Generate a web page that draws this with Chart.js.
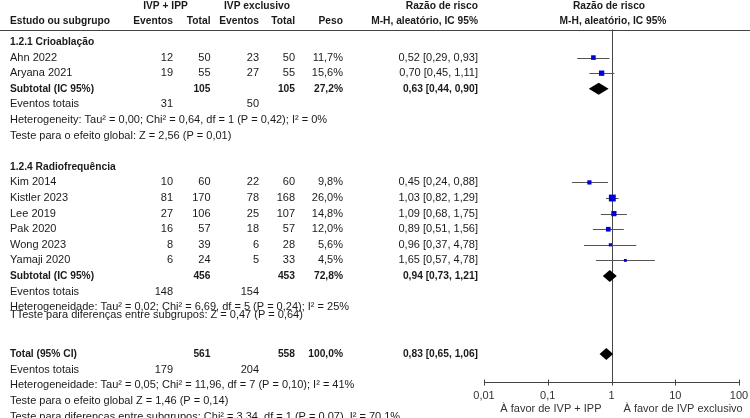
<!DOCTYPE html>
<html>
<head>
<meta charset="utf-8">
<script src="https://cdn.jsdelivr.net/npm/chart.js@4.4.0/dist/chart.umd.min.js"></script>
<style>
  html, body { margin: 0; padding: 0; background: #fff; }
  canvas { display: block; }
</style>
</head>
<body>
<canvas id="forest" width="750" height="418"></canvas>
<script>
// dados
const studies = ['Ahn 2022', 'Aryana 2021', 'Kim 2014', 'Kistler 2023', 'Lee 2019', 'Pak 2020', 'Wong 2023', 'Yamaji 2020'];
const eventsA = [12, 19, 10, 81, 27, 16, 8, 6];
const totalA = [50, 55, 60, 170, 106, 57, 39, 24];
const eventsB = [23, 27, 22, 78, 25, 18, 6, 5];
const totalB = [50, 55, 60, 168, 107, 57, 28, 33];
const weights = [11.7, 15.6, 9.8, 26.0, 14.8, 12.0, 5.6, 4.5];
const rr = [0.52, 0.70, 0.45, 1.03, 1.09, 0.89, 0.96, 1.65];
const rrLo = [0.29, 0.45, 0.24, 0.82, 0.68, 0.51, 0.37, 0.57];
const rrHi = [0.93, 1.11, 0.88, 1.29, 1.75, 1.56, 2.45, 4.78];
// texto da coluna tal como impresso (Wong traz 4,78 no original)
const rrLabels = ['0,52 [0,29, 0,93]', '0,70 [0,45, 1,11]', '0,45 [0,24, 0,88]', '1,03 [0,82, 1,29]',
  '1,09 [0,68, 1,75]', '0,89 [0,51, 1,56]', '0,96 [0,37, 4,78]', '1,65 [0,57, 4,78]'];

const pooledNames = ['Subtotal (IC 95%)', 'Subtotal (IC 95%)', 'Total (95% CI)'];
const pooledTotA = [105, 456, 561];
const pooledTotB = [105, 453, 558];
const pooledEvA = [31, 148, 179];
const pooledEvB = [50, 154, 204];
const pooledWeight = ['27,2%', '72,8%', '100,0%'];
const pooledRR = [0.63, 0.94, 0.83];
const pooledLo = [0.44, 0.73, 0.65];
const pooledHi = [0.90, 1.21, 1.06];
const pooledLabels = ['0,63 [0,44, 0,90]', '0,94 [0,73, 1,21]', '0,83 [0,65, 1,06]'];

const groupTitles = ['1.2.1 Crioablação', '1.2.4 Radiofrequência'];
const statLines = [
  'Heterogeneity: Tau² = 0,00; Chi² = 0,64, df = 1 (P = 0,42); I² = 0%',
  'Teste para o efeito global: Z = 2,56 (P = 0,01)',
  'Heterogeneidade: Tau² = 0,02; Chi² = 6,69, df = 5 (P = 0,24); I² = 25%',
  'TTeste para diferenças entre subgrupos: Z = 0,47 (P = 0,64)',
  'Heterogeneidade: Tau² = 0,05; Chi² = 11,96, df = 7 (P = 0,10); I² = 41%',
  'Teste para o efeito global Z = 1,46 (P = 0,14)',
  'Teste para diferenças entre subgrupos: Chi² = 3,34, df = 1 (P = 0,07), I² = 70,1%'
];

const tickValues = [0.01, 0.1, 1, 10, 100];
const tickLabels = ['0,01', '0,1', '1', '10', '100'];
const favorLabels = ['À favor de IVP + IPP', 'À favor de IVP exclusivo'];

// layout (linhas da tabela)
const studyRows = [1, 2, 9, 10, 11, 12, 13, 14];
const groupRows = [0, 8];
const pooledRows = [3, 15, 20];
const eventRows = [4, 16, 21];
const statRows = [5, 6, 17, 17.5, 22, 23, 24];
const HEAD1 = -2.3, HEAD2 = -1.35;

const FONT = '"Liberation Sans", Arial, sans-serif';
const SIZE = 11;
const BOLD_SX = 0.93;   // negrito do original é mais estreito
const TEXT = '#1a1a1a';
const LINE = '#444';
const col = { name: 10, evA: 173, totA: 210.5, evB: 259, totB: 295, peso: 343, rr: 478 };

const fmt = v => v.toFixed(1).replace('.', ',') + '%';

const forestPlugin = {
  id: 'forest',
  beforeDraw(chart) {
    const ctx = chart.ctx;
    ctx.save();
    ctx.fillStyle = '#fff';
    ctx.fillRect(0, 0, chart.width, chart.height);
    ctx.restore();
  },
  beforeDatasetsDraw(chart) {
    const { ctx, scales: { x, y }, chartArea } = chart;
    ctx.save();
    // linha do cabeçalho
    ctx.strokeStyle = LINE;
    ctx.lineWidth = 1;
    ctx.beginPath();
    ctx.moveTo(0, Math.round(chartArea.top) + 0.5);
    ctx.lineTo(chart.width, Math.round(chartArea.top) + 0.5);
    ctx.stroke();
    // linha de efeito nulo
    const x1 = Math.round(x.getPixelForValue(1)) + 0.5;
    ctx.beginPath();
    ctx.moveTo(x1, chartArea.top);
    ctx.lineTo(x1, chartArea.bottom);
    ctx.stroke();
    // intervalos de confiança
    ctx.strokeStyle = '#555';
    studies.forEach((s, i) => {
      const py = Math.round(y.getPixelForValue(studyRows[i])) + 0.5;
      ctx.beginPath();
      ctx.moveTo(x.getPixelForValue(rrLo[i]), py);
      ctx.lineTo(x.getPixelForValue(rrHi[i]), py);
      ctx.stroke();
    });
    // diamantes
    ctx.fillStyle = '#000';
    pooledRR.forEach((v, i) => {
      const py = y.getPixelForValue(pooledRows[i]);
      ctx.beginPath();
      ctx.moveTo(x.getPixelForValue(pooledLo[i]), py);
      ctx.lineTo(x.getPixelForValue(v), py - 6);
      ctx.lineTo(x.getPixelForValue(pooledHi[i]), py);
      ctx.lineTo(x.getPixelForValue(v), py + 6);
      ctx.closePath();
      ctx.fill();
    });
    // eixo
    const ay = Math.round(chartArea.bottom) + 0.5;
    ctx.strokeStyle = LINE;
    ctx.beginPath();
    ctx.moveTo(x.getPixelForValue(tickValues[0]), ay);
    ctx.lineTo(x.getPixelForValue(tickValues[tickValues.length - 1]), ay);
    tickValues.forEach(t => {
      const px = Math.round(x.getPixelForValue(t)) + 0.5;
      ctx.moveTo(px, ay - 3);
      ctx.lineTo(px, ay + 3);
    });
    ctx.stroke();
    ctx.fillStyle = '#333';
    ctx.font = SIZE + 'px ' + FONT;
    ctx.textBaseline = 'middle';
    ctx.textAlign = 'center';
    tickValues.forEach((t, i) => ctx.fillText(tickLabels[i], x.getPixelForValue(t), ay + 13));
    ctx.textAlign = 'right';
    ctx.fillText(favorLabels[0], x1 - 11, ay + 26);
    ctx.textAlign = 'left';
    ctx.fillText(favorLabels[1], x1 + 11, ay + 26);
    ctx.restore();
  },
  afterDraw(chart) {
    const { ctx, scales: { y } } = chart;
    ctx.save();
    ctx.fillStyle = TEXT;
    ctx.textBaseline = 'middle';
    const put = (str, px, row, align, bold) => {
      ctx.save();
      ctx.font = (bold ? 'bold ' : '') + SIZE + 'px ' + FONT;
      ctx.textAlign = align;
      ctx.translate(px, y.getPixelForValue(row));
      if (bold) ctx.scale(BOLD_SX, 1);
      ctx.fillText(String(str), 0, 0);
      ctx.restore();
    };
    // cabeçalho
    put('IVP + IPP', 165.5, HEAD1, 'center', true);
    put('IVP exclusivo', 257, HEAD1, 'center', true);
    put('Razão de risco', col.rr, HEAD1, 'right', true);
    put('Razão de risco', 609, HEAD1, 'center', true);
    put('Estudo ou subgrupo', col.name, HEAD2, 'left', true);
    put('Eventos', col.evA, HEAD2, 'right', true);
    put('Total', col.totA, HEAD2, 'right', true);
    put('Eventos', col.evB, HEAD2, 'right', true);
    put('Total', col.totB, HEAD2, 'right', true);
    put('Peso', col.peso, HEAD2, 'right', true);
    put('M-H, aleatório, IC 95%', col.rr, HEAD2, 'right', true);
    put('M-H, aleatório, IC 95%', 613, HEAD2, 'center', true);

    groupTitles.forEach((g, i) => put(g, col.name, groupRows[i], 'left', true));
    studies.forEach((s, i) => {
      const r = studyRows[i];
      put(s, col.name, r, 'left');
      put(eventsA[i], col.evA, r, 'right');
      put(totalA[i], col.totA, r, 'right');
      put(eventsB[i], col.evB, r, 'right');
      put(totalB[i], col.totB, r, 'right');
      put(fmt(weights[i]), col.peso, r, 'right');
      put(rrLabels[i], col.rr, r, 'right');
    });
    pooledNames.forEach((n, i) => {
      const r = pooledRows[i];
      put(n, col.name, r, 'left', true);
      put(pooledTotA[i], col.totA, r, 'right', true);
      put(pooledTotB[i], col.totB, r, 'right', true);
      put(pooledWeight[i], col.peso, r, 'right', true);
      put(pooledLabels[i], col.rr, r, 'right', true);
      const e = eventRows[i];
      put('Eventos totais', col.name, e, 'left');
      put(pooledEvA[i], col.evA, e, 'right');
      put(pooledEvB[i], col.evB, e, 'right');
    });
    statLines.forEach((s, i) => put(s, col.name, statRows[i], 'left'));
    ctx.restore();
  }
};

new Chart(document.getElementById('forest'), {
  type: 'scatter',
  data: {
    datasets: [{
      data: rr.map((v, i) => ({ x: v, y: studyRows[i] })),
      pointStyle: 'rect',
      pointRadius: weights.map(w => Math.sqrt(w) * 1.35 / Math.SQRT2),
      pointHoverRadius: weights.map(w => Math.sqrt(w) * 1.35 / Math.SQRT2),
      backgroundColor: '#0000dd',
      borderWidth: 0,
      clip: false
    }]
  },
  options: {
    responsive: false,
    devicePixelRatio: 1,
    animation: false,
    events: [],
    layout: { padding: { left: 484, right: 11, top: 29.5, bottom: 36 } },
    plugins: { legend: { display: false }, tooltip: { enabled: false } },
    scales: {
      x: { type: 'logarithmic', min: 0.01, max: 100, display: false },
      y: { type: 'linear', min: -0.8, max: 21.79, reverse: true, display: false }
    }
  },
  plugins: [forestPlugin]
});
</script>
</body>
</html>
